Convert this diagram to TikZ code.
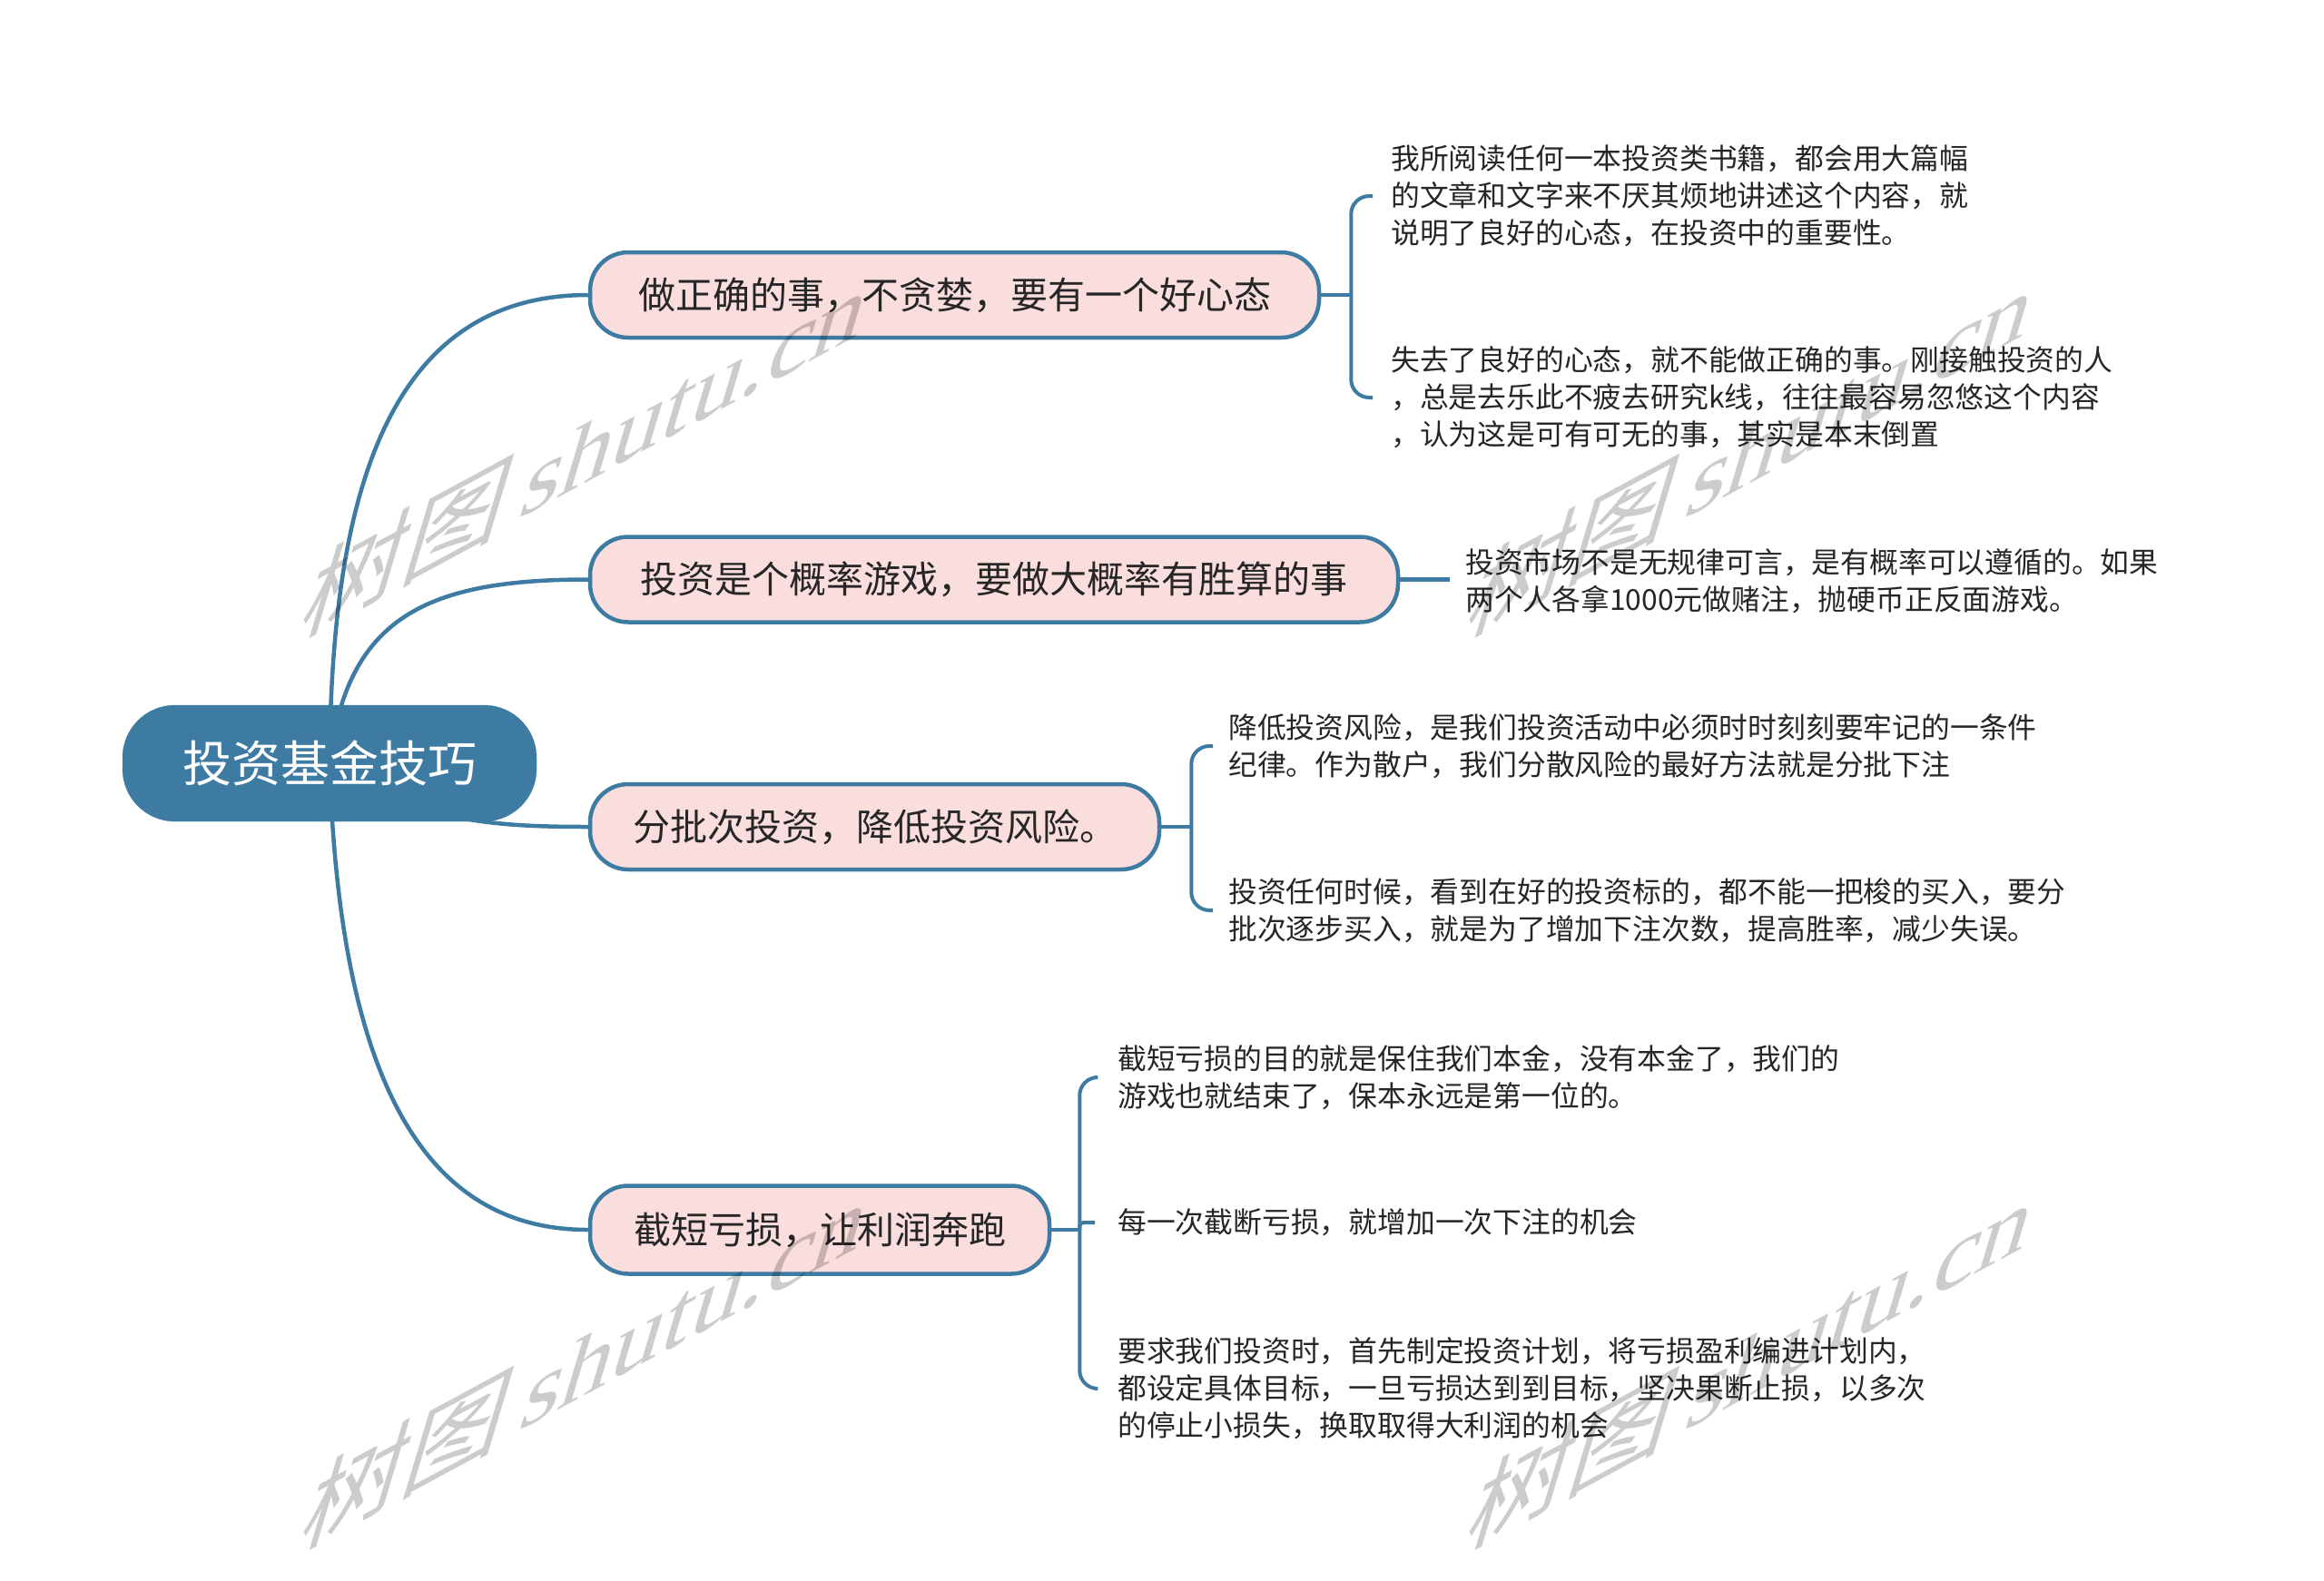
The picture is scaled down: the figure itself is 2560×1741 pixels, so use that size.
\documentclass[tikz,border=0pt]{standalone}
\usepackage{fontspec}
\setmainfont{Noto Sans CJK SC}
\newfontfamily\wmlat{Liberation Serif}
\usetikzlibrary{backgrounds}
\definecolor{mblue}{RGB}{62,123,163}
\definecolor{mpink}{RGB}{250,221,221}
\definecolor{mtext}{RGB}{38,38,38}
\tikzset{
  rootbox/.style={fill=mblue, draw=mblue, rounded corners=58pt, minimum width=456pt, minimum height=128pt, inner sep=0pt, text=white, font=\fontsize{54}{60}\selectfont},
  branchbox/.style={fill=mpink, draw=mblue, line width=4.5pt, rounded corners=42pt, minimum height=94pt, inner sep=0pt, text=mtext, font=\fontsize{41}{48}\selectfont},
  leaftext/.style={anchor=west, align=left, inner sep=0pt, text=mtext, font=\fontsize{31.8}{41}\selectfont},
  link/.style={draw=mblue, line width=4.5pt},
  bracket/.style={draw=mblue, line width=4pt, rounded corners=20pt},
  wm/.style={cm={1,0.54,0.3,1,(0,0)}, inner sep=0pt, text=black, text opacity=0.2, font=\fontsize{112}{120}\selectfont}
}
\begin{document}
\begin{tikzpicture}[x=1pt,y=-1pt]
\useasboundingbox (0,0) rectangle (2560,1741);
% main topic
\node[rootbox] (root) at (363,841) {投资基金技巧};
% branches
\node[branchbox, minimum width=803pt] (b1) at (1051.5,325) {做正确的事，不贪婪，要有一个好心态};
\node[branchbox, minimum width=890pt] (b2) at (1095,638.5) {投资是个概率游戏，要做大概率有胜算的事};
\node[branchbox, minimum width=627pt] (b3) at (963.5,911) {分批次投资，降低投资风险。};
\node[branchbox, minimum width=506pt, minimum height=97pt] (b4) at (903,1355) {截短亏损，让利润奔跑};
% leaves
\node[leaftext] (l1a) at (1532,216) {我所阅读任何一本投资类书籍，都会用大篇幅\\的文章和文字来不厌其烦地讲述这个内容，就\\说明了良好的心态，在投资中的重要性。};
\node[leaftext] (l1b) at (1532,438) {失去了良好的心态，就不能做正确的事。刚接触投资的人\\，总是去乐此不疲去研究k线，往往最容易忽悠这个内容\\，认为这是可有可无的事，其实是本末倒置};
\node[leaftext] (l2) at (1614,640.5) {投资市场不是无规律可言，是有概率可以遵循的。如果\\两个人各拿1000元做赌注，抛硬币正反面游戏。};
\node[leaftext] (l3a) at (1353,822) {降低投资风险，是我们投资活动中必须时时刻刻要牢记的一条件\\纪律。作为散户，我们分散风险的最好方法就是分批下注};
\node[leaftext] (l3b) at (1353,1003) {投资任何时候，看到在好的投资标的，都不能一把梭的买入，要分\\批次逐步买入，就是为了增加下注次数，提高胜率，减少失误。};
\node[leaftext] (l4a) at (1231,1187) {截短亏损的目的就是保住我们本金，没有本金了，我们的\\游戏也就结束了，保本永远是第一位的。};
\node[leaftext] (l4b) at (1231,1347) {每一次截断亏损，就增加一次下注的机会};
\node[leaftext] (l4c) at (1231,1530) {要求我们投资时，首先制定投资计划，将亏损盈利编进计划内，\\都设定具体目标，一旦亏损达到到目标，坚决果断止损，以多次\\的停止小损失，换取取得大利润的机会};
% junctions and connector ends
\coordinate (j1) at ([xshift=33pt]b1.east);
\coordinate (j3) at ([xshift=33pt]b3.east);
\coordinate (j4) at ([xshift=31pt]b4.east);
\coordinate (t1a) at ([xshift=-20pt]l1a.west);
\coordinate (t1b) at ([xshift=-20pt]l1b.west);
\coordinate (t2) at ([xshift=-17pt]l2.west);
\coordinate (t3a) at ([xshift=-17pt]l3a.west);
\coordinate (t3b) at ([xshift=-17pt]l3b.west);
\coordinate (t4a) at ([xshift=-25pt]l4a.west);
\coordinate (t4b) at ([xshift=-25pt]l4b.west);
\coordinate (t4c) at ([xshift=-25pt]l4c.west);
\begin{scope}[on background layer]
\fill[white] (0,0) rectangle (2560,1741);
\draw[link] (root.center) .. controls (365,560) and (420,325) .. (b1.west);
\draw[link] (root.center) .. controls (382,680) and (470,638.5) .. (b2.west);
\draw[link] (root.center) .. controls (460,905) and (540,911) .. (b3.west);
\draw[link] (root.center) .. controls (375,1230) and (490,1355) .. (b4.west);
% branch 1
\draw[link] (b1.east) -- (j1);
\draw[bracket] (j1) |- (t1a);
\draw[bracket] (j1) |- (t1b);
% branch 2
\draw[link] (b2.east) -- (b2.east -| t2);
% branch 3
\draw[link] (b3.east) -- (j3);
\draw[bracket] (j3) |- (t3a);
\draw[bracket] (j3) |- (t3b);
% branch 4
\draw[link] (b4.east) -- (j4);
\draw[bracket] (j4) |- (t4a);
\draw[bracket, rounded corners=4pt] (j4) |- (t4b);
\draw[bracket] (j4) |- (t4c);
\end{scope}
% watermarks
\node[wm] (w1) at (648,495) {树图\,{\wmlat shutu.cn}};
\node[wm] (w2) at (1932,495) {树图\,{\wmlat shutu.cn}};
\node[wm] (w3) at (648,1500) {树图\,{\wmlat shutu.cn}};
\node[wm] (w4) at (1932,1500) {树图\,{\wmlat shutu.cn}};
\end{tikzpicture}
\end{document}
